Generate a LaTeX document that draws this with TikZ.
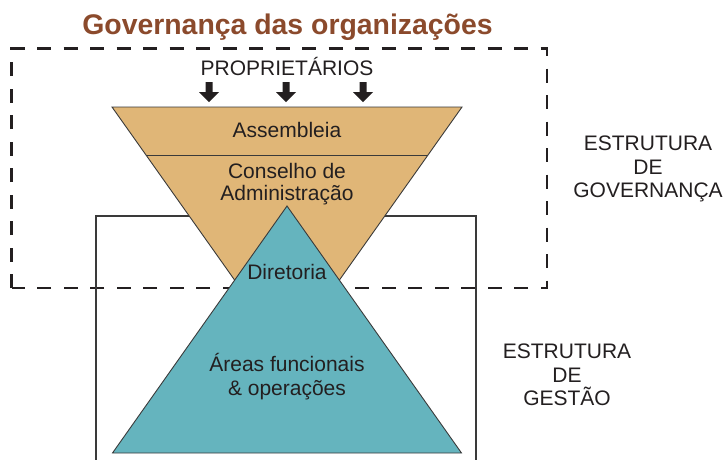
\documentclass[tikz,border=0pt]{standalone}
\usepackage{fontspec}
\setmainfont{Liberation Sans}
\definecolor{orangeF}{HTML}{E0B677}
\definecolor{tealF}{HTML}{65B4BE}
\definecolor{brownT}{HTML}{8B4A2C}
\definecolor{txt}{HTML}{231F20}
\definecolor{edge}{HTML}{3A3A3A}
\begin{document}
\begin{tikzpicture}[x=1pt,y=-1pt,
  lbl/.style={anchor=base, text=txt, font=\fontsize{21}{24}\selectfont, inner sep=0pt},
  titlestyle/.style={anchor=base, text=brownT, font=\fontsize{28.4}{32}\selectfont\bfseries, inner sep=0pt},
  dashbox/.style={draw=txt, line width=2.6pt, dash pattern=on 14pt off 12.5pt},
  gestbox/.style={draw=edge, line width=1.2pt},
  shapeedge/.style={draw=edge, line width=0.9pt},
  blockarrow/.style={fill=txt}
]
\useasboundingbox (0,0) rectangle (727,459);

% governance dashed frame
\draw[dashbox] (11.5,288) -- (11.5,48.5) -- (547,48.5) -- (547,288) -- cycle;

% management frame (open at bottom)
\draw[gestbox] (96,470) -- (96,216) -- (476,216) -- (476,470);

% inverted triangle (governance)
\draw[shapeedge, fill=orangeF] (112,107) -- (462,107) -- (287,354) -- cycle;
\draw[shapeedge] (146,155) -- (428,155);

% pyramid (management)
\draw[shapeedge, fill=tealF] (287,206) -- (461.5,453) -- (112.5,453) -- cycle;

% owners arrows
\foreach \x in {209,286,363}{
  \fill[blockarrow] (\x-3.5,82) -- (\x+3.5,82) -- (\x+3.5,92) -- (\x+10,92) -- (\x,102) -- (\x-10,92) -- (\x-3.5,92) -- cycle;
}

% texts
\node[titlestyle] (title) at (287.5,34) {Governança das organizações};
\node[lbl] (prop) at (287,75) {PROPRIETÁRIOS};
\node[lbl] (assemb) at (287,137.5) {Assembleia};
\node[lbl] (cons1) at (287,178) {Conselho de};
\node[lbl] (cons2) at (287,200.5) {Administração};
\node[lbl] (dir) at (287,279) {Diretoria};
\node[lbl] (areas1) at (287,371) {Áreas funcionais};
\node[lbl] (areas2) at (287,395) {\& operações};

\node[lbl] (gov1) at (648,150.5) {ESTRUTURA};
\node[lbl] (gov2) at (648,174.5) {DE};
\node[lbl] (gov3) at (648,197.5) {GOVERNANÇA};

\node[lbl] (ges1) at (567,358) {ESTRUTURA};
\node[lbl] (ges2) at (567,382) {DE};
\node[lbl] (ges3) at (567,405) {GESTÃO};
\end{tikzpicture}
\end{document}
